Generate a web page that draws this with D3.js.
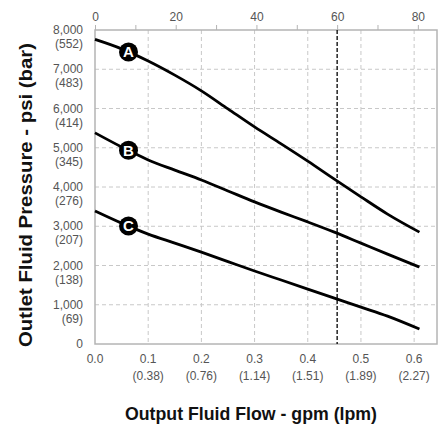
<!DOCTYPE html>
<html>
<head>
<meta charset="utf-8">
<script src="https://cdn.jsdelivr.net/npm/d3@7"></script>
<style>
  html, body { margin: 0; padding: 0; background: #fff; }
  svg { display: block; }
  .tick-label { font-family: "Liberation Sans", Arial, sans-serif; font-size: 12px; fill: #555; }
  .axis-title { font-family: "Liberation Sans", Arial, sans-serif; font-weight: bold; font-size: 19px; fill: #111; }
</style>
</head>
<body>
<div id="chart"></div>
<script>
// flow values (gpm) where each curve was read
const flowGpm = [0, 0.05, 0.1, 0.15, 0.2, 0.25, 0.3, 0.35, 0.4, 0.45, 0.5, 0.55, 0.61];
// outlet pressure (psi) per pump curve
const curveA = [7760, 7520, 7210, 6850, 6450, 5990, 5530, 5100, 4660, 4200, 3750, 3310, 2850];
const curveB = [5380, 5020, 4690, 4430, 4180, 3900, 3620, 3360, 3110, 2850, 2570, 2290, 1960];
const curveC = [3390, 3080, 2800, 2570, 2340, 2100, 1860, 1630, 1400, 1170, 940, 710, 380];
const curveNames = ["A", "B", "C"];
const labelFlow = 0.063;

const psiTicks = [0, 1000, 2000, 3000, 4000, 5000, 6000, 7000, 8000];
const barLabels = ["", "(69)", "(138)", "(207)", "(276)", "(345)", "(414)", "(483)", "(552)"];
const gpmTicks = [0, 0.1, 0.2, 0.3, 0.4, 0.5, 0.6];
const lpmLabels = ["", "(0.38)", "(0.76)", "(1.14)", "(1.51)", "(1.89)", "(2.27)"];
const topTicks = [0, 10, 20, 30, 40, 50, 60, 70, 80];
const topLabelTicks = [0, 20, 40, 60, 80];
const markerTop = 60;

const width = 443, height = 429;
const margin = { top: 30, right: 6, bottom: 85, left: 95 };
const innerW = width - margin.left - margin.right;
const innerH = height - margin.top - margin.bottom;

const x = d3.scaleLinear().domain([0, 0.643]).range([0, innerW]);
const y = d3.scaleLinear().domain([0, 8000]).range([innerH, 0]);
const xTop = d3.scaleLinear().domain([0, 80]).range([x(0), x(0.607)]);

const svg = d3.select("#chart").append("svg")
  .attr("width", width)
  .attr("height", height);

const g = svg.append("g").attr("transform", `translate(${margin.left},${margin.top})`);

// grid
g.append("g")
  .selectAll("line")
  .data(psiTicks.filter(d => d > 0 && d < 8000))
  .join("line")
  .attr("x1", 0).attr("x2", innerW)
  .attr("y1", d => y(d)).attr("y2", d => y(d))
  .attr("stroke", "#c8c8c8").attr("stroke-width", 1)
  .attr("stroke-dasharray", "4 3");

g.append("g")
  .selectAll("line")
  .data(gpmTicks.filter(d => d > 0))
  .join("line")
  .attr("x1", d => x(d)).attr("x2", d => x(d))
  .attr("y1", 0).attr("y2", innerH)
  .attr("stroke", "#c8c8c8").attr("stroke-width", 1)
  .attr("stroke-dasharray", "4 3");

// frame
g.append("rect")
  .attr("x", 0).attr("y", 0)
  .attr("width", innerW).attr("height", innerH)
  .attr("fill", "none")
  .attr("stroke", "#b4b4b4")
  .attr("stroke-width", 1.5);

// top axis
const topAxis = d3.axisTop(xTop)
  .tickValues(topTicks)
  .tickSize(5)
  .tickFormat(d => topLabelTicks.includes(d) ? d : "");
const topG = g.append("g").call(topAxis);
topG.select(".domain").remove();
topG.selectAll(".tick line").attr("stroke", "#b4b4b4");
topG.selectAll(".tick text").attr("class", "tick-label").attr("dy", "-1px").attr("fill", null);

// dashed marker line
g.append("line")
  .attr("x1", xTop(markerTop)).attr("x2", xTop(markerTop))
  .attr("y1", 0).attr("y2", innerH)
  .attr("stroke", "#000").attr("stroke-width", 1.3)
  .attr("stroke-dasharray", "4 2");

// left tick labels
const yLab = g.append("g");
yLab.selectAll("text.psi")
  .data(psiTicks)
  .join("text")
  .attr("class", "tick-label psi")
  .attr("x", -12)
  .attr("y", d => y(d))
  .attr("dy", "0.35em")
  .attr("text-anchor", "end")
  .text(d => d3.format(",")(d));
yLab.selectAll("text.bar")
  .data(psiTicks)
  .join("text")
  .attr("class", "tick-label bar")
  .attr("x", -12)
  .attr("y", d => y(d) + 14)
  .attr("dy", "0.35em")
  .attr("text-anchor", "end")
  .text((d, i) => barLabels[i]);

// bottom tick labels
const xLab = g.append("g");
xLab.selectAll("text.gpm")
  .data(gpmTicks)
  .join("text")
  .attr("class", "tick-label gpm")
  .attr("x", d => x(d))
  .attr("y", innerH + 15)
  .attr("dy", "0.35em")
  .attr("text-anchor", "middle")
  .text(d => d3.format(".1f")(d));
xLab.selectAll("text.lpm")
  .data(gpmTicks)
  .join("text")
  .attr("class", "tick-label lpm")
  .attr("x", d => x(d))
  .attr("y", innerH + 32)
  .attr("dy", "0.35em")
  .attr("text-anchor", "middle")
  .text((d, i) => lpmLabels[i]);

// curves
const series = [curveA, curveB, curveC];
const line = d3.line()
  .x(d => x(d[0]))
  .y(d => y(d[1]))
  .curve(d3.curveMonotoneX);

g.append("g")
  .selectAll("path")
  .data(series)
  .join("path")
  .attr("d", s => line(flowGpm.map((f, i) => [f, s[i]])))
  .attr("fill", "none")
  .attr("stroke", "#000")
  .attr("stroke-width", 2.8);

// curve labels
const labelY = s => {
  const i = d3.bisectRight(flowGpm, labelFlow) - 1;
  const t = (labelFlow - flowGpm[i]) / (flowGpm[i + 1] - flowGpm[i]);
  return s[i] + t * (s[i + 1] - s[i]);
};
const labels = g.append("g")
  .selectAll("g")
  .data(series)
  .join("g")
  .attr("transform", s => `translate(${x(labelFlow)},${y(labelY(s))})`);
labels.append("circle")
  .attr("r", 9.5)
  .attr("fill", "#000");
labels.append("text")
  .attr("text-anchor", "middle")
  .attr("dy", "0.36em")
  .attr("fill", "#fff")
  .attr("font-family", "Liberation Sans, Arial, sans-serif")
  .attr("font-weight", "bold")
  .attr("font-size", 15)
  .text((s, i) => curveNames[i]);

// axis titles
svg.append("text")
  .attr("class", "axis-title")
  .attr("transform", "translate(32,195) rotate(-90)")
  .attr("text-anchor", "middle")
  .attr("textLength", 304)
  .attr("lengthAdjust", "spacingAndGlyphs")
  .text("Outlet Fluid Pressure - psi (bar)");

svg.append("text")
  .attr("class", "axis-title")
  .attr("x", 251)
  .attr("y", 420)
  .attr("text-anchor", "middle")
  .attr("textLength", 252)
  .attr("lengthAdjust", "spacingAndGlyphs")
  .text("Output Fluid Flow - gpm (lpm)");
</script>
</body>
</html>
